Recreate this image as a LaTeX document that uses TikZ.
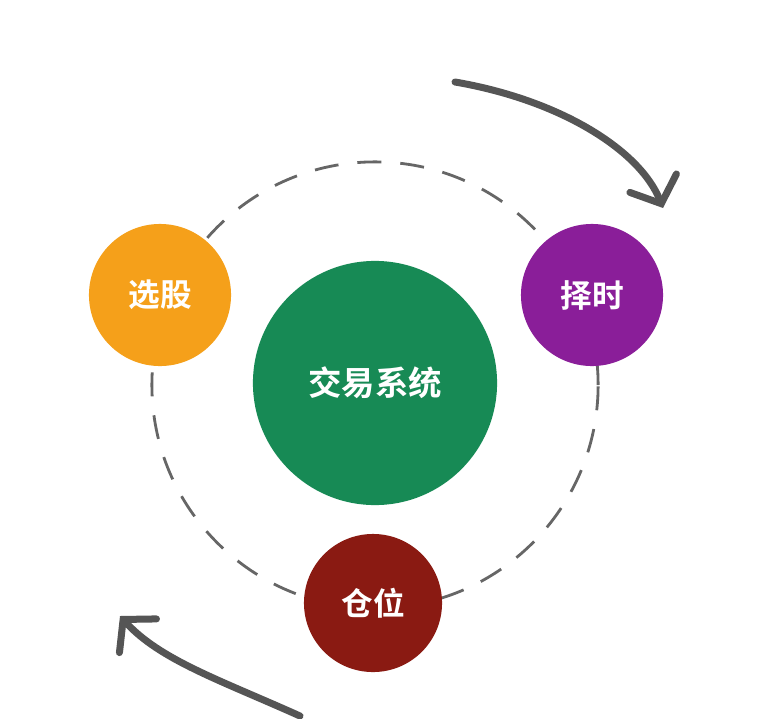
\documentclass[tikz,border=0pt]{standalone}
\usepackage{fontspec}
\setmainfont{Noto Sans CJK SC}[BoldFont={Noto Sans CJK SC Bold}]
\usetikzlibrary{arrows.meta}
\definecolor{cgreen}{HTML}{178A55}
\definecolor{corange}{HTML}{F5A01A}
\definecolor{cpurple}{HTML}{8A1E99}
\definecolor{cred}{HTML}{8A1A12}
\definecolor{carrow}{HTML}{555555}
\tikzset{
  ball/.style={circle,inner sep=0pt,text=white,font=\bfseries\fontsize{9pt}{10pt}\selectfont},
  flow/.style={carrow,line width=0.07cm,line cap=round,-{Straight Barb[length=0.22cm,width=0.5cm,line cap=round]}}
}
\begin{document}
\begin{tikzpicture}[x=0.01cm,y=-0.01cm]
\useasboundingbox[fill=white] (0,0) rectangle (758,718);
\draw[gray!80!black,line width=0.028cm,dash pattern=on 0.24cm off 0.19cm] (375,385) circle[radius=2.23cm];
\node[ball,fill=cgreen,minimum size=2.44cm,font=\bfseries\fontsize{9.5pt}{11pt}\selectfont] (c) at (375,383) {交易系统};
\node[ball,fill=corange,minimum size=1.42cm] (a) at (160,295) {选股};
\node[ball,fill=cpurple,minimum size=1.42cm] (b) at (592,295) {择时};
\node[ball,fill=cred,minimum size=1.38cm] (d) at (373,603) {仓位};
\coordinate (t1) at (455,82);
\coordinate (t2) at (663,208);
\coordinate (b1) at (300,716);
\coordinate (b2) at (120,616);
\draw[flow] (t1) .. controls (560,100) and (640,150) .. (t2);
\draw[flow] (b1) .. controls (220,680) and (160,660) .. (b2);
\end{tikzpicture}
\end{document}
